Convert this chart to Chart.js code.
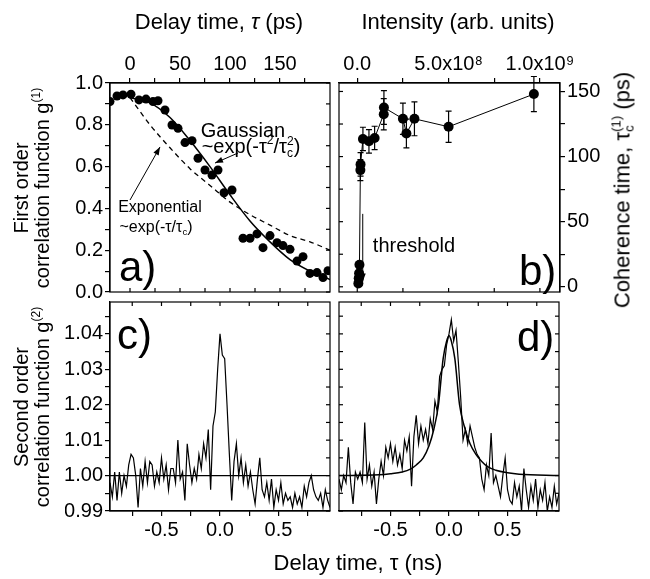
<!DOCTYPE html>
<html>
<head>
<meta charset="utf-8">
<script src="https://cdn.jsdelivr.net/npm/chart.js@4.4.0/dist/chart.umd.min.js"></script>
<style>
  body { margin: 0; background: #fff; }
  #wrap { position: relative; width: 650px; height: 579px; overflow: hidden;
          font-family: "Liberation Sans", Arial, sans-serif; color: #000; }
  #wrap canvas { position: absolute; left: 0; top: 0; }
  .t { position: absolute; white-space: nowrap; line-height: 1; transform: translate(-50%, -50%); }
  .rot { transform: translate(-50%, -50%) rotate(-90deg); text-align: center; }
  .lbl { position: absolute; white-space: nowrap; line-height: 1; font-size: 42px; }
  sup { font-size: 0.6em; vertical-align: 0.75em; line-height: 0; }
  .st { display: inline-block; vertical-align: -0.3em; line-height: 0.95; font-size: 0.6em; text-align: left; }
  .st span { display: block; }
</style>
</head>
<body>
<div id="wrap">
  <canvas id="pa" width="650" height="579"></canvas>
  <canvas id="pb" width="650" height="579"></canvas>
  <canvas id="pc" width="650" height="579"></canvas>
  <canvas id="pd" width="650" height="579"></canvas>

  <div class="t" style="left:219px; top:22px; font-size:22px;">Delay time, <i>τ</i> (ps)</div>
  <div class="t" style="left:458px; top:22px; font-size:22px;">Intensity (arb. units)</div>
  <div class="t" style="left:358px; top:563px; font-size:22px;">Delay time, τ (ns)</div>
  <div class="t rot" style="left:32px; top:188px; font-size:20px; line-height:21px;">First order<br>correlation function g<sup>(1)</sup></div>
  <div class="t rot" style="left:32px; top:407px; font-size:20px; line-height:21px;">Second order<br>correlation function g<sup>(2)</sup></div>
  <div class="t rot" style="left:623px; top:190px; font-size:22px;">Coherence time, τ<span class="st"><span>(1)</span><span>c</span></span> (ps)</div>

  <div class="t" style="left:243px; top:130px; font-size:20px;">Gaussian</div>
  <div class="t" style="left:251px; top:147px; font-size:20px;">~exp(-τ<sup>2</sup>/τ<span class="st"><span>2</span><span>c</span></span>)</div>
  <div class="t" style="left:160px; top:207px; font-size:16px;">Exponential</div>
  <div class="t" style="left:156px; top:227px; font-size:16px;">~exp(-τ/τ<span class="st"><span>&nbsp;</span><span>c</span></span>)</div>
  <div class="t" style="left:414px; top:245px; font-size:20px;">threshold</div>

  <div class="lbl" style="left:119px; top:246px;">a)</div>
  <div class="lbl" style="left:519px; top:250px;">b)</div>
  <div class="lbl" style="left:117px; top:314px;">c)</div>
  <div class="lbl" style="left:517px; top:316px;">d)</div>
</div>
<script>
Chart.defaults.font.family = "'Liberation Sans', Arial, sans-serif";
Chart.defaults.font.size = 20;
Chart.defaults.color = "#000";

// a) first order correlation vs delay (ps)
const aDelay = [-20, -13, -7, 1, 9, 16, 23, 28, 35, 42, 48, 55, 62, 68, 75, 82, 88, 94, 102,
                113, 120, 127, 133, 140, 147, 153, 160, 167, 173, 180, 187, 193, 198];
const aG1 = [0.911, 0.938, 0.943, 0.946, 0.919, 0.923, 0.911, 0.915, 0.871, 0.799, 0.783, 0.715,
             0.724, 0.640, 0.584, 0.560, 0.584, 0.475, 0.488, 0.257, 0.257, 0.278, 0.212, 0.270,
             0.236, 0.222, 0.204, 0.148, 0.169, 0.089, 0.093, 0.069, 0.102];
const gaussDelay = [0, 20, 40, 60, 80, 100, 120, 140, 160, 180, 200];
const gaussFit = [0.93, 0.905, 0.835, 0.725, 0.60, 0.465, 0.34, 0.24, 0.155, 0.10, 0.06];
const expDelay = [0, 20, 40, 60, 80, 100, 120, 140, 160, 180, 200];
const expFit = [0.93, 0.80, 0.69, 0.59, 0.51, 0.43, 0.37, 0.32, 0.27, 0.24, 0.20];
const aTopTicks = [0, 25, 50, 75, 100, 125, 150, 175];
const aTopLabels = ["0", "", "50", "", "100", "", "150", ""];
const aLeftTicks = [0, 0.1, 0.2, 0.3, 0.4, 0.5, 0.6, 0.7, 0.8, 0.9, 1.0];
const aLeftLabels = ["0.0", "", "0.2", "", "0.4", "", "0.6", "", "0.8", "", "1.0"];

// b) coherence time vs intensity
const bIntensity = [0.06e8, 0.08e8, 0.10e8, 0.12e8, 0.17e8, 0.18e8, 0.31e8, 0.64e8, 0.95e8,
                    1.45e8, 1.46e8, 2.50e8, 2.69e8, 3.13e8, 5.0e8, 9.67e8];
const bCoherence = [2.6, 6.5, 10.4, 16.9, 89.6, 94, 113.5, 111.7, 114.3, 132.5, 137.7, 129,
                    117.7, 129, 122.9, 148];
const bError = [1, 1, 1, 1, 8, 9, 9, 9, 9, 12, 13, 12, 11, 13, 12, 13.5];
const bTopTicks = [0, 2.5e8, 5e8, 7.5e8, 1e9];
const bTopLabels = ["0.0", "", "5.0x10⁸", "", "1.0x10⁹"];
const bRightTicks = [0, 25, 50, 75, 100, 125, 150];
const bRightLabels = ["0", "", "50", "", "100", "", "150"];

// c) and d) second order correlation vs delay (ns)
const traceTime = [-0.94, -0.92, -0.90, -0.88, -0.86, -0.84, -0.82, -0.80, -0.78, -0.76, -0.74, -0.72,
  -0.70, -0.68, -0.66, -0.64, -0.62, -0.60, -0.58, -0.56, -0.54, -0.52, -0.50, -0.48, -0.46, -0.44,
  -0.42, -0.40, -0.38, -0.36, -0.34, -0.32, -0.30, -0.28, -0.26, -0.24, -0.22, -0.20, -0.18, -0.16,
  -0.14, -0.12, -0.10, -0.08, -0.06, -0.04, -0.02, 0, 0.02, 0.04, 0.06, 0.08, 0.10, 0.12, 0.14, 0.16,
  0.18, 0.20, 0.22, 0.24, 0.26, 0.28, 0.30, 0.32, 0.34, 0.36, 0.38, 0.40, 0.42, 0.44, 0.46, 0.48,
  0.50, 0.52, 0.54, 0.56, 0.58, 0.60, 0.62, 0.64, 0.66, 0.68, 0.70, 0.72, 0.74, 0.76, 0.78, 0.80,
  0.82, 0.84, 0.86, 0.88, 0.90, 0.92, 0.94];
const cG2 = [
  0.998, 0.994, 1.001, 0.993, 1.001, 0.995, 1.000, 0.997, 1.003, 1.006,
  1.005, 1.000, 0.991, 1.002, 0.997, 1.004, 0.998, 1.004, 1.003, 0.997,
  1.001, 0.998, 1.005, 0.999, 1.003, 0.996, 1.002, 1.002, 0.998, 1.010,
  0.999, 1.001, 0.993, 1.009, 1.003, 0.998, 1.002, 0.999, 1.006, 1.002,
  1.009, 1.005, 1.013, 0.996, 1.014, 1.018, 1.030,
  1.040,
  1.034, 1.033, 1.020, 1.006, 0.993, 1.004, 1.009, 1.000, 1.005, 0.998,
  1.003, 0.997, 1.001, 0.996, 0.992, 0.999, 1.005, 0.996, 0.994, 0.998,
  0.993, 0.999, 0.991, 0.996, 0.993, 0.998, 0.992, 0.995, 0.993, 0.994,
  0.991, 0.995, 0.992, 0.994, 0.991, 0.997, 0.994, 0.998, 1.000, 0.996,
  0.994, 0.993, 0.995, 0.991, 0.996, 0.993, 0.991];
const cBaseTime = [-0.94, 0.94];
const cBase = [1.0, 1.0];
const dG2 = [
  0.999, 0.996, 1.000, 0.998, 1.008, 0.998, 0.992, 1.001, 0.999, 1.001,
  0.998, 1.015, 0.999, 1.003, 0.997, 1.001, 0.992, 0.999, 1.004, 1.000,
  1.008, 1.005, 1.009, 1.004, 1.008, 1.003, 1.006, 1.002, 1.010, 1.007,
  1.011, 0.997, 1.011, 1.017, 1.009, 1.014, 1.010, 1.013, 1.009, 1.016,
  1.013, 1.021, 1.018, 1.028, 1.030, 1.031, 1.037,
  1.040,
  1.044, 1.038, 1.041, 1.032, 1.022, 1.010, 1.013, 1.009, 1.014, 1.011,
  1.008, 1.006, 1.005, 0.999, 0.996, 1.003, 1.000, 1.012, 0.998, 1.000,
  0.997, 0.994, 1.000, 1.005, 0.996, 0.993, 0.992, 0.998, 0.994, 0.997,
  0.990, 1.002, 0.996, 0.991, 0.997, 0.993, 0.999, 0.991, 0.996, 0.993,
  0.998, 0.990, 0.994, 0.991, 0.997, 0.992, 0.995];
const dFitTime = [-0.94, -0.6, -0.5, -0.4, -0.33, -0.28, -0.22, -0.17, -0.13, -0.09, -0.05, -0.02, 0,
                  0.02, 0.05, 0.09, 0.13, 0.18, 0.23, 0.28, 0.33, 0.4, 0.5, 0.6, 0.94];
const dFit = [1.0, 1.0002, 1.0005, 1.001, 1.0018, 1.003, 1.005, 1.0085, 1.013, 1.020, 1.033, 1.038,
              1.0395, 1.038, 1.033, 1.020, 1.014, 1.009, 1.006, 1.004, 1.0025, 1.0015, 1.0008,
              1.0004, 1.0];
const nsTicks = [-0.75, -0.5, -0.25, 0, 0.25, 0.5, 0.75];
const nsLabels = ["", "-0.5", "", "0.0", "", "0.5", ""];
const g2Ticks = [0.99, 0.995, 1.0, 1.005, 1.01, 1.015, 1.02, 1.025, 1.03, 1.035, 1.04, 1.045];
const g2Labels = ["0.99", "", "1.00", "", "1.01", "", "1.02", "", "1.03", "", "1.04", ""];

function pts(xs, ys) { return xs.map((x, i) => ({x: x, y: ys[i]})); }

function axis(position, min, max, tickValues, tickLabels, size) {
  return {
    type: "linear", position: position, min: min, max: max,
    afterBuildTicks: ax => { ax.ticks = tickValues.map(v => ({value: v})); },
    afterFit: ax => { if (ax.isHorizontal()) ax.height = size; else ax.width = size; },
    ticks: { callback: (v, i) => tickLabels[i], padding: 2, maxRotation: 0, autoSkip: false },
    grid: { drawOnChartArea: false, tickLength: 5, color: "#000", lineWidth: 1.2 },
    border: { display: true, color: "#000", width: 1.2 }
  };
}

// box round the plot area, with inward ticks on the unlabelled sides
const framePlugin = {
  id: "frame",
  afterDraw(chart, args, opts) {
    const ctx = chart.ctx, a = chart.chartArea;
    ctx.save();
    ctx.strokeStyle = "#000";
    ctx.lineWidth = 1.2;
    ctx.strokeRect(a.left, a.top, a.right - a.left, a.bottom - a.top);
    (opts.inner || []).forEach(t => {
      const s = chart.scales[t.scale];
      t.values.forEach(v => {
        const p = s.getPixelForValue(v);
        ctx.beginPath();
        if (t.side === "top") { ctx.moveTo(p, a.top); ctx.lineTo(p, a.top + 4); }
        if (t.side === "bottom") { ctx.moveTo(p, a.bottom); ctx.lineTo(p, a.bottom - 4); }
        if (t.side === "left") { ctx.moveTo(a.left, p); ctx.lineTo(a.left + 4, p); }
        if (t.side === "right") { ctx.moveTo(a.right, p); ctx.lineTo(a.right - 4, p); }
        ctx.stroke();
      });
    });
    ctx.restore();
  }
};

const arrowPlugin = {
  id: "arrows",
  afterDatasetsDraw(chart, args, opts) {
    const ctx = chart.ctx, xs = chart.scales.x, ys = chart.scales.y;
    ctx.save();
    ctx.strokeStyle = "#000";
    ctx.fillStyle = "#000";
    ctx.lineWidth = 1;
    (opts.list || []).forEach(ar => {
      const x1 = xs.getPixelForValue(ar.from[0]), y1 = ys.getPixelForValue(ar.from[1]);
      const x2 = xs.getPixelForValue(ar.to[0]), y2 = ys.getPixelForValue(ar.to[1]);
      const ang = Math.atan2(y2 - y1, x2 - x1);
      ctx.beginPath(); ctx.moveTo(x1, y1); ctx.lineTo(x2, y2); ctx.stroke();
      ctx.beginPath();
      ctx.moveTo(x2, y2);
      ctx.lineTo(x2 - 8 * Math.cos(ang) + 3 * Math.sin(ang), y2 - 8 * Math.sin(ang) - 3 * Math.cos(ang));
      ctx.lineTo(x2 - 8 * Math.cos(ang) - 3 * Math.sin(ang), y2 - 8 * Math.sin(ang) + 3 * Math.cos(ang));
      ctx.closePath(); ctx.fill();
    });
    ctx.restore();
  }
};

const errorBarPlugin = {
  id: "errorBars",
  beforeDatasetsDraw(chart, args, opts) {
    if (!opts.errors) return;
    const ctx = chart.ctx, ys = chart.scales.y;
    const meta = chart.getDatasetMeta(0), data = chart.data.datasets[0].data;
    ctx.save();
    ctx.strokeStyle = "#000";
    ctx.lineWidth = 1.2;
    meta.data.forEach((el, i) => {
      const e = opts.errors[i];
      const yt = ys.getPixelForValue(data[i].y + e), yb = ys.getPixelForValue(data[i].y - e);
      ctx.beginPath();
      ctx.moveTo(el.x, yt); ctx.lineTo(el.x, yb);
      ctx.moveTo(el.x - 3, yt); ctx.lineTo(el.x + 3, yt);
      ctx.moveTo(el.x - 3, yb); ctx.lineTo(el.x + 3, yb);
      ctx.stroke();
    });
    ctx.restore();
  }
};

function baseOptions(pad) {
  return {
    responsive: false, animation: false, events: [],
    layout: { padding: pad },
    plugins: { legend: { display: false }, tooltip: { enabled: false } }
  };
}

// panel a
const optA = baseOptions({ left: 65, top: 53, right: 320, bottom: 287 });
optA.scales = {
  x: axis("top", -20, 200, aTopTicks, aTopLabels, 30),
  y: axis("left", 0, 1.0, aLeftTicks, aLeftLabels, 45)
};
optA.plugins.frame = { inner: [
  { side: "bottom", scale: "x", values: aTopTicks },
  { side: "right", scale: "y", values: aLeftTicks } ] };
optA.plugins.arrows = { list: [
  { from: [108, 0.665], to: [85, 0.617] },
  { from: [0, 0.44], to: [30, 0.694] } ] };
new Chart("pa", {
  type: "scatter",
  data: { datasets: [
    { data: pts(aDelay, aG1), pointRadius: 4.5, backgroundColor: "#000", borderWidth: 0, clip: 0 },
    { data: pts(gaussDelay, gaussFit), showLine: true, pointRadius: 0, borderColor: "#000",
      borderWidth: 1.5, cubicInterpolationMode: "monotone" },
    { data: pts(expDelay, expFit), showLine: true, pointRadius: 0, borderColor: "#000",
      borderWidth: 1.3, borderDash: [5, 4], cubicInterpolationMode: "monotone" }
  ] },
  options: optA,
  plugins: [framePlugin, arrowPlugin]
});

// panel b
const optB = baseOptions({ left: 339, top: 53, right: 45, bottom: 287 });
optB.scales = {
  x: axis("top", -1.0e8, 1.11e9, bTopTicks, bTopLabels, 30),
  y: axis("right", -4, 156.5, bRightTicks, bRightLabels, 45)
};
optB.plugins.frame = { inner: [
  { side: "bottom", scale: "x", values: bTopTicks },
  { side: "left", scale: "y", values: bRightTicks } ] };
optB.plugins.errorBars = { errors: bError };
optB.plugins.arrows = { list: [ { from: [0.3e8, 56], to: [0.3e8, 4] } ] };
new Chart("pb", {
  type: "scatter",
  data: { datasets: [
    { data: pts(bIntensity, bCoherence), showLine: true, borderColor: "#000", borderWidth: 1,
      pointRadius: 5, backgroundColor: "#000", pointBorderWidth: 0 }
  ] },
  options: optB,
  plugins: [framePlugin, errorBarPlugin, arrowPlugin]
});

// panel c
const optC = baseOptions({ left: 65, top: 302, right: 320, bottom: 38 });
optC.scales = {
  x: axis("bottom", -0.94, 0.94, nsTicks, nsLabels, 30),
  y: axis("left", 0.99, 1.049, g2Ticks, g2Labels, 45)
};
optC.plugins.frame = { inner: [
  { side: "top", scale: "x", values: nsTicks },
  { side: "right", scale: "y", values: g2Ticks } ] };
new Chart("pc", {
  type: "scatter",
  data: { datasets: [
    { data: pts(traceTime, cG2), showLine: true, pointRadius: 0, borderColor: "#000", borderWidth: 1.2, clip: 0 },
    { data: pts(cBaseTime, cBase), showLine: true, pointRadius: 0, borderColor: "#000", borderWidth: 1.2 }
  ] },
  options: optC,
  plugins: [framePlugin]
});

// panel d
const optD = baseOptions({ left: 339, top: 302, right: 91, bottom: 38 });
const yD = axis("left", 0.99, 1.049, g2Ticks, g2Labels, 0);
yD.display = false;
optD.scales = {
  x: axis("bottom", -0.94, 0.94, nsTicks, nsLabels, 30),
  y: yD
};
optD.plugins.frame = { inner: [
  { side: "top", scale: "x", values: nsTicks },
  { side: "left", scale: "y", values: g2Ticks },
  { side: "right", scale: "y", values: g2Ticks } ] };
new Chart("pd", {
  type: "scatter",
  data: { datasets: [
    { data: pts(traceTime, dG2), showLine: true, pointRadius: 0, borderColor: "#000", borderWidth: 1.2, clip: 0 },
    { data: pts(dFitTime, dFit), showLine: true, pointRadius: 0, borderColor: "#000", borderWidth: 1.5,
      cubicInterpolationMode: "monotone", clip: 0 }
  ] },
  options: optD,
  plugins: [framePlugin]
});
</script>
</body>
</html>
